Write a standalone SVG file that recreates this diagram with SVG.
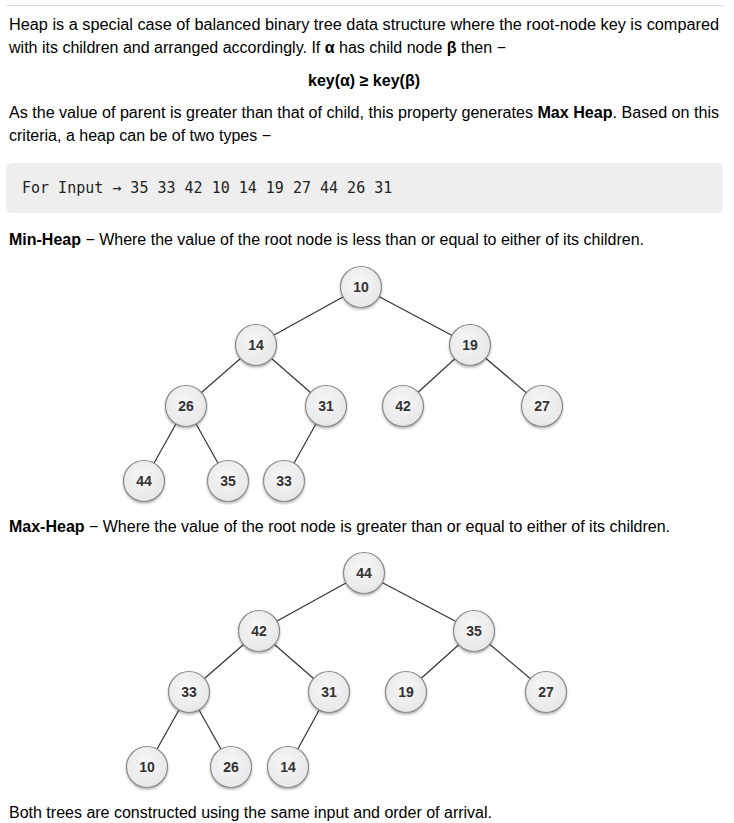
<svg xmlns="http://www.w3.org/2000/svg" width="734" height="823" viewBox="0 0 734 823">
<defs>
<radialGradient id="ng" cx="45%" cy="40%" r="65%">
<stop offset="0" stop-color="#f7f7f7"/>
<stop offset="1" stop-color="#e6e6e8"/>
</radialGradient>
<filter id="sh" x="-30%" y="-30%" width="160%" height="170%">
<feDropShadow dx="0" dy="1.5" stdDeviation="1.2" flood-color="#000" flood-opacity="0.3"/>
</filter>
</defs>
<style>
.t{font-family:"Liberation Sans",Arial,sans-serif;font-size:16px;fill:#000}
.b{font-weight:bold}
.code{font-family:"DejaVu Sans Mono",monospace;font-size:15px;fill:#222}
.node circle{fill:url(#ng);stroke:#8a8a8a;stroke-width:1.2;filter:url(#sh)}
.node text{font-family:"Liberation Sans",Arial,sans-serif;font-size:14px;font-weight:bold;fill:#333;text-anchor:middle}
.edges line{stroke:#333;stroke-width:1.2}
</style>
<rect width="734" height="823" fill="#fff"/>
<line x1="6" y1="5.5" x2="723" y2="5.5" stroke="#ddd" stroke-width="1"/>
<text class="t" x="9" y="30" textLength="710" lengthAdjust="spacingAndGlyphs">Heap is a special case of balanced binary tree data structure where the root-node key is compared</text>
<text class="t" x="9" y="53" textLength="497" lengthAdjust="spacingAndGlyphs">with its children and arranged accordingly. If <tspan class="b">α</tspan> has child node <tspan class="b">β</tspan> then −</text>
<text class="t b" x="364" y="86" text-anchor="middle">key(α) ≥ key(β)</text>
<text class="t" x="9" y="118" textLength="710" lengthAdjust="spacingAndGlyphs">As the value of parent is greater than that of child, this property generates <tspan class="b">Max Heap</tspan>. Based on this</text>
<text class="t" x="9" y="141" textLength="262" lengthAdjust="spacingAndGlyphs">criteria, a heap can be of two types −</text>
<rect x="6" y="163" width="717" height="50" rx="6" fill="#eee"/>
<text class="code" x="22" y="193">For Input → 35 33 42 10 14 19 27 44 26 31</text>
<text class="t" x="9" y="245" textLength="635" lengthAdjust="spacingAndGlyphs"><tspan class="b">Min-Heap</tspan> − Where the value of the root node is less than or equal to either of its children.</text>
<text class="t" x="9" y="532" textLength="661" lengthAdjust="spacingAndGlyphs"><tspan class="b">Max-Heap</tspan> − Where the value of the root node is greater than or equal to either of its children.</text>
<text class="t" x="9" y="818" textLength="483" lengthAdjust="spacingAndGlyphs">Both trees are constructed using the same input and order of arrival.</text>
<g id="connectors" class="edges">
<line x1="361" y1="287" x2="256" y2="345"/>
<line x1="361" y1="287" x2="470" y2="345"/>
<line x1="256" y1="345" x2="186" y2="406"/>
<line x1="256" y1="345" x2="326" y2="406"/>
<line x1="470" y1="345" x2="403" y2="406"/>
<line x1="470" y1="345" x2="542" y2="406"/>
<line x1="186" y1="406" x2="144" y2="481"/>
<line x1="186" y1="406" x2="228" y2="481"/>
<line x1="326" y1="406" x2="284" y2="481"/>
<line x1="364" y1="573" x2="259" y2="631"/>
<line x1="364" y1="573" x2="474" y2="631"/>
<line x1="259" y1="631" x2="189" y2="692"/>
<line x1="259" y1="631" x2="329" y2="692"/>
<line x1="474" y1="631" x2="406" y2="692"/>
<line x1="474" y1="631" x2="546" y2="692"/>
<line x1="189" y1="692" x2="147" y2="767"/>
<line x1="189" y1="692" x2="231" y2="767"/>
<line x1="329" y1="692" x2="288" y2="767"/>
</g>
<g id="min-10" class="node"><circle cx="361" cy="287" r="20.5"/><text x="361" y="292">10</text></g>
<g id="min-14" class="node"><circle cx="256" cy="345" r="20.5"/><text x="256" y="350">14</text></g>
<g id="min-19" class="node"><circle cx="470" cy="345" r="20.5"/><text x="470" y="350">19</text></g>
<g id="min-26" class="node"><circle cx="186" cy="406" r="20.5"/><text x="186" y="411">26</text></g>
<g id="min-31" class="node"><circle cx="326" cy="406" r="20.5"/><text x="326" y="411">31</text></g>
<g id="min-42" class="node"><circle cx="403" cy="406" r="20.5"/><text x="403" y="411">42</text></g>
<g id="min-27" class="node"><circle cx="542" cy="406" r="20.5"/><text x="542" y="411">27</text></g>
<g id="min-44" class="node"><circle cx="144" cy="481" r="20.5"/><text x="144" y="486">44</text></g>
<g id="min-35" class="node"><circle cx="228" cy="481" r="20.5"/><text x="228" y="486">35</text></g>
<g id="min-33" class="node"><circle cx="284" cy="481" r="20.5"/><text x="284" y="486">33</text></g>
<g id="max-44" class="node"><circle cx="364" cy="573" r="20.5"/><text x="364" y="578">44</text></g>
<g id="max-42" class="node"><circle cx="259" cy="631" r="20.5"/><text x="259" y="636">42</text></g>
<g id="max-35" class="node"><circle cx="474" cy="631" r="20.5"/><text x="474" y="636">35</text></g>
<g id="max-33" class="node"><circle cx="189" cy="692" r="20.5"/><text x="189" y="697">33</text></g>
<g id="max-31" class="node"><circle cx="329" cy="692" r="20.5"/><text x="329" y="697">31</text></g>
<g id="max-19" class="node"><circle cx="406" cy="692" r="20.5"/><text x="406" y="697">19</text></g>
<g id="max-27" class="node"><circle cx="546" cy="692" r="20.5"/><text x="546" y="697">27</text></g>
<g id="max-10" class="node"><circle cx="147" cy="767" r="20.5"/><text x="147" y="772">10</text></g>
<g id="max-26" class="node"><circle cx="231" cy="767" r="20.5"/><text x="231" y="772">26</text></g>
<g id="max-14" class="node"><circle cx="288" cy="767" r="20.5"/><text x="288" y="772">14</text></g>
</svg>
